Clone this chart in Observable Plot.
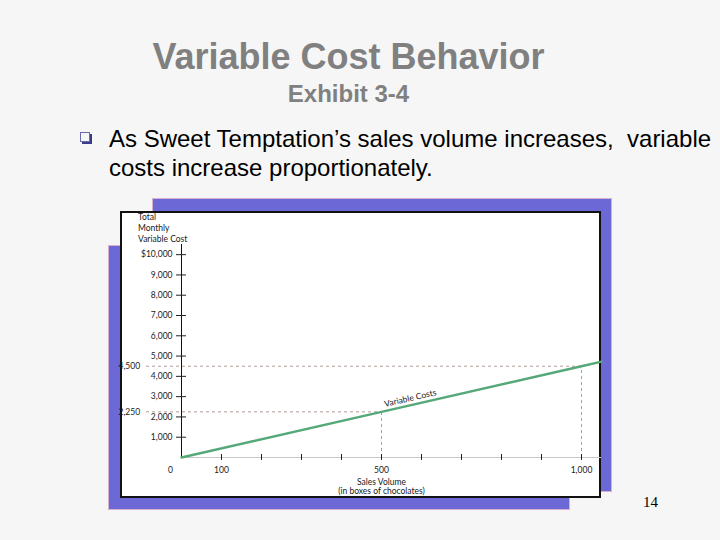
<!DOCTYPE html>
<html>
<head>
<meta charset="utf-8">
<script src="https://cdn.jsdelivr.net/npm/d3@7"></script>
<script src="https://cdn.jsdelivr.net/npm/@observablehq/plot@0.6"></script>
<style>
  html, body { margin: 0; padding: 0; }
  body { width: 720px; height: 540px; background: #f6f6f6; position: relative; overflow: hidden; font-family: "Liberation Sans", Arial, sans-serif; }
  .abs { position: absolute; }
  #title { left: 0; width: 697px; top: 36px; text-align: center; font-weight: bold; font-size: 36px; color: #808080; line-height: 42px; }
  #subtitle { left: 0; width: 697px; top: 80px; text-align: center; font-weight: bold; font-size: 24px; color: #808080; line-height: 28px; }
  #bullet { left: 80px; top: 132px; width: 8px; height: 8px; border: 1.5px solid #6a6ab0; box-shadow: 2px 2px 0 #3a3a8a; background: #f6f6f6; }
  #point { left: 109px; top: 124px; font-size: 24px; color: #000; line-height: 29px; white-space: pre; }
  .purple { background: #6c68d6; border: 1px solid #d8b0d0; box-sizing: border-box; }
  #rect1 { left: 152px; top: 198px; width: 460px; height: 294px; }
  #rect2 { left: 108px; top: 245px; width: 462px; height: 265px; }
  #box { left: 120px; top: 211px; width: 481px; height: 287px; background: #fff; border: 2px solid #111; box-sizing: border-box; }
  #ytitle { left: 138px; top: 212px; font-family: Lato, sans-serif; font-size: 8.5px; line-height: 11px; color: #1a1a1a; }
  #chart { left: 120px; top: 211px; width: 481px; height: 287px; }
  #page { left: 643px; top: 494px; font-family: "Liberation Serif", serif; font-size: 15px; color: #000; }
</style>
</head>
<body>
<div id="title" class="abs">Variable Cost Behavior</div>
<div id="subtitle" class="abs">Exhibit 3-4</div>
<div id="bullet" class="abs"></div>
<div id="point" class="abs">As Sweet Temptation’s sales volume increases,  variable
costs increase proportionately.</div>
<div id="rect1" class="abs purple"></div>
<div id="rect2" class="abs purple"></div>
<div id="box" class="abs"></div>
<div id="ytitle" class="abs">Total<br>Monthly<br>Variable Cost</div>
<div id="chart" class="abs"></div>
<div id="page" class="abs">14</div>
<script>
// Data
const volume = [0, 500, 1000, 1050];
const cost = [0, 2250, 4500, 4725];
const yTicks = [1000, 2000, 3000, 4000, 5000, 6000, 7000, 8000, 9000, 10000];
const yLabels = ["1,000", "2,000", "3,000", "4,000", "5,000", "6,000", "7,000", "8,000", "9,000", "$10,000"];
const xTicks = [100, 200, 300, 400, 500, 600, 700, 800, 900, 1000];
const xLabelValues = [100, 500, 1000];
const xLabels = ["100", "500", "1,000"];
const zeroLabel = "0";
const refVolume = [500, 1000];
const refCost = [2250, 4500];
const refLabels = ["2,250", "4,500"];
const lineLabel = "Variable Costs";
const xTitle = "Sales Volume\n(in boxes of chocolates)";

const lineData = volume.map((v, i) => ({volume: v, cost: cost[i]}));
const refData = refVolume.map((v, i) => ({volume: v, cost: refCost[i], label: refLabels[i]}));
const leftEdge = -152.5;   // box left edge in volume units
const dashStart = -87.5;   // where the dashes begin, after the labels

const chart = Plot.plot({
  width: 481,
  height: 287,
  marginLeft: 61,
  marginRight: 0,
  marginTop: 33,
  marginBottom: 41,
  x: {domain: [0, 1050], axis: null},
  y: {domain: [0, 10500], axis: null},
  style: {background: "transparent", overflow: "visible", fontFamily: "Lato, sans-serif", fontSize: "8.5px", color: "#1a1a1a"},
  marks: [
    Plot.ruleY([0], {x1: 0, x2: 1050, stroke: "#c8c8c8", strokeWidth: 1}),
    Plot.ruleY(refData, {y: "cost", x1: dashStart, x2: "volume", stroke: "#b89898", strokeDasharray: "3,3", strokeWidth: 1}),
    Plot.ruleX(refData, {x: "volume", y1: 0, y2: "cost", stroke: "#b89898", strokeDasharray: "3,3", strokeWidth: 1}),
    Plot.ruleX([0], {y1: 0, y2: 10500, stroke: "#111", strokeWidth: 1}),
    Plot.axisY({ticks: yTicks, tickSize: 10, dx: 5, text: null, label: null, stroke: "#222"}),
    Plot.axisX({ticks: xTicks, tickSize: 6, dy: -3, text: null, label: null, stroke: "#222"}),
    Plot.text(yTicks, {x: 0, y: d => d, text: (d, i) => yLabels[i], textAnchor: "end", dx: -9, fill: "#1a1a1a"}),
    Plot.text(xLabelValues, {x: d => d, y: 0, text: (d, i) => xLabels[i], dy: 13, fill: "#1a1a1a"}),
    Plot.text([0], {x: d => d, y: 0, text: () => zeroLabel, dy: 13, dx: -11, fill: "#1a1a1a"}),
    Plot.text([xTitle], {x: 500, y: 0, text: d => d, dy: 29.5, lineHeight: 1.06, fill: "#1a1a1a"}),
    Plot.text(refData, {x: leftEdge, y: "cost", text: "label", textAnchor: "start", dx: -2, fill: "#1a1a1a"}),
    Plot.line(lineData, {x: "volume", y: "cost", stroke: "#55a878", strokeWidth: 2.4}),
    Plot.text([lineLabel], {x: 572, y: 2574, text: d => d, rotate: -13, dy: -7, fill: "#1a1a1a"})
  ]
});
document.getElementById("chart").appendChild(chart);
</script>
</body>
</html>
